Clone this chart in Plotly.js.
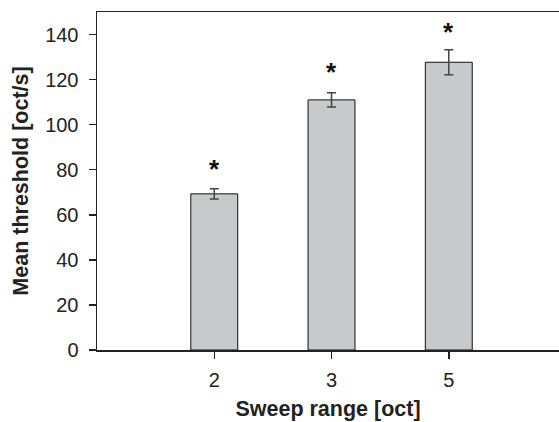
<!DOCTYPE html>
<html>
<head>
<meta charset="utf-8">
<script src="https://cdn.plot.ly/plotly-3.0.1.min.js"></script>
<style>html,body{margin:0;padding:0;background:#fff;}#chart{width:559px;height:422px;}</style>
</head>
<body>
<div id="chart"></div>
<script>
const categories = ["2", "3", "5"];
const meanThreshold = [69.3, 111.0, 127.7];
const sem = [2.3, 3.2, 5.5];
const starLevel = [82, 125, 143];
const starText = ["*", "*", "*"];

const trace = {
  type: "bar",
  x: categories,
  y: meanThreshold,
  width: 0.4,
  marker: {color: "#c8c9cb", line: {color: "#111", width: 1}},
  error_y: {type: "data", array: sem, visible: true, color: "#444", thickness: 1.5, width: 4.5},
  hoverinfo: "none"
};

const annotations = categories.map((c, i) => ({
  x: i, y: starLevel[i], xref: "x", yref: "y",
  text: "<b>" + starText[i] + "</b>", showarrow: false,
  font: {family: "Arial, 'Liberation Sans', sans-serif", size: 26, color: "#111"},
  yanchor: "middle", xanchor: "center", yshift: -4
}));

const layout = {
  width: 559, height: 422,
  margin: {l: 97, r: 0, t: 12, b: 72},
  paper_bgcolor: "#fff", plot_bgcolor: "#fff",
  showlegend: false,
  font: {family: "Arial, 'Liberation Sans', sans-serif", size: 20, color: "#222"},
  xaxis: {
    type: "category",
    range: [-1, 2.94],
    showline: true, linecolor: "#222", linewidth: 1.5, mirror: true,
    ticks: "outside", ticklen: 7, tickwidth: 1.5, tickcolor: "#222",
    showgrid: false, zeroline: false,
    tickfont: {size: 20},
    ticklabelstandoff: 4,
    title: {text: "<b>Sweep range [oct]</b>", font: {size: 21.5}, standoff: 11}
  },
  yaxis: {
    range: [0, 150],
    tickvals: [0, 20, 40, 60, 80, 100, 120, 140],
    showline: true, linecolor: "#222", linewidth: 1.5,
    ticks: "outside", ticklen: 7, tickwidth: 1.5, tickcolor: "#222",
    showgrid: false, zeroline: false,
    tickfont: {size: 20},
    ticklabelstandoff: 6,
    title: {text: "<b>Mean threshold [oct/s]</b>", font: {size: 21.5}, standoff: 10}
  },
  annotations: annotations
};

Plotly.newPlot("chart", [trace], layout, {staticPlot: true, displayModeBar: false});
</script>
</body>
</html>
